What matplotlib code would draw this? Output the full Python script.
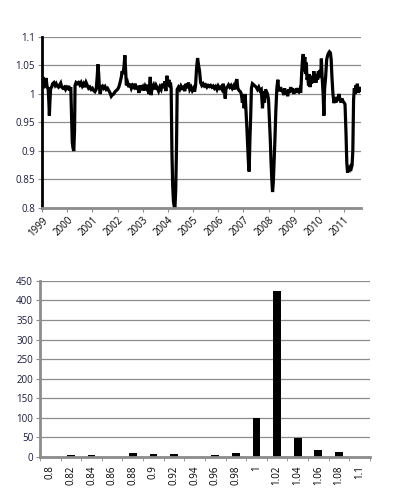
import matplotlib
matplotlib.use("Agg")
import matplotlib.pyplot as plt
import numpy as np

plt.rcParams['font.family'] = ['Open Sans', 'DejaVu Sans']

# ---- top chart: weekly ratio series (fractional year, value)
years = [
    1999.00, 1999.03, 1999.06, 1999.09, 1999.12, 1999.16, 1999.20, 1999.24, 1999.27, 1999.29,
    1999.31, 1999.34, 1999.38, 1999.42, 1999.47, 1999.52, 1999.56, 1999.60, 1999.65, 1999.70,
    1999.74, 1999.78, 1999.83, 1999.88, 1999.93, 1999.97, 2000.02, 2000.06, 2000.10, 2000.14,
    2000.17, 2000.20, 2000.23, 2000.26, 2000.29, 2000.31, 2000.35, 2000.40, 2000.45, 2000.50,
    2000.55, 2000.60, 2000.65, 2000.70, 2000.75, 2000.80, 2000.85, 2000.90, 2000.95, 2001.00,
    2001.05, 2001.10, 2001.15, 2001.19, 2001.22, 2001.25, 2001.28, 2001.31, 2001.35, 2001.40,
    2001.45, 2001.50, 2001.55, 2001.60, 2001.65, 2001.70, 2001.75, 2001.80, 2001.85, 2001.90,
    2001.95, 2002.00, 2002.05, 2002.10, 2002.15, 2002.18, 2002.22, 2002.26, 2002.29, 2002.32,
    2002.35, 2002.40, 2002.45, 2002.50, 2002.55, 2002.60, 2002.65, 2002.70, 2002.75, 2002.80,
    2002.85, 2002.90, 2002.95, 2003.00, 2003.05, 2003.10, 2003.15, 2003.20, 2003.25, 2003.30,
    2003.33, 2003.38, 2003.43, 2003.48, 2003.53, 2003.58, 2003.63, 2003.68, 2003.73, 2003.78,
    2003.83, 2003.88, 2003.92, 2003.96, 2004.00, 2004.04, 2004.07, 2004.10, 2004.13, 2004.16,
    2004.19, 2004.22, 2004.25, 2004.28, 2004.31, 2004.34, 2004.37, 2004.42, 2004.47, 2004.52,
    2004.57, 2004.62, 2004.67, 2004.72, 2004.77, 2004.82, 2004.87, 2004.92, 2004.97, 2005.02,
    2005.06, 2005.10, 2005.14, 2005.18, 2005.22, 2005.26, 2005.30, 2005.35, 2005.40, 2005.45,
    2005.50, 2005.55, 2005.60, 2005.65, 2005.70, 2005.75, 2005.80, 2005.85, 2005.90, 2005.95,
    2006.00, 2006.05, 2006.10, 2006.15, 2006.20, 2006.25, 2006.28, 2006.31, 2006.36, 2006.41,
    2006.46, 2006.51, 2006.56, 2006.61, 2006.66, 2006.70, 2006.74, 2006.78, 2006.83, 2006.88,
    2006.92, 2006.96, 2007.00, 2007.03, 2007.07, 2007.10, 2007.14, 2007.17, 2007.20, 2007.23,
    2007.26, 2007.29, 2007.32, 2007.36, 2007.41, 2007.46, 2007.51, 2007.56, 2007.61, 2007.66,
    2007.71, 2007.76, 2007.80, 2007.84, 2007.88, 2007.92, 2007.96, 2008.00, 2008.03, 2008.07,
    2008.10, 2008.13, 2008.16, 2008.19, 2008.22, 2008.25, 2008.29, 2008.33, 2008.37, 2008.40,
    2008.44, 2008.48, 2008.52, 2008.56, 2008.60, 2008.64, 2008.68, 2008.72, 2008.76, 2008.80,
    2008.84, 2008.88, 2008.92, 2008.96, 2009.00, 2009.04, 2009.08, 2009.12, 2009.16, 2009.20,
    2009.24, 2009.28, 2009.32, 2009.35, 2009.38, 2009.41, 2009.44, 2009.47, 2009.50, 2009.53,
    2009.56, 2009.59, 2009.62, 2009.65, 2009.68, 2009.71, 2009.74, 2009.77, 2009.80, 2009.83,
    2009.86, 2009.89, 2009.92, 2009.95, 2009.98, 2010.01, 2010.04, 2010.07, 2010.10, 2010.13,
    2010.17, 2010.20, 2010.23, 2010.27, 2010.31, 2010.35, 2010.39, 2010.42, 2010.46, 2010.49,
    2010.52, 2010.56, 2010.60, 2010.64, 2010.68, 2010.72, 2010.76, 2010.80, 2010.84, 2010.88,
    2010.92, 2010.96, 2011.00, 2011.04, 2011.08, 2011.11, 2011.14, 2011.17, 2011.20, 2011.23,
    2011.26, 2011.29, 2011.32, 2011.35, 2011.38, 2011.41, 2011.44, 2011.47, 2011.50, 2011.53,
    2011.56, 2011.60, 2011.64,
]
ratio = [
    1.020, 1.030, 1.010, 1.025, 1.015, 1.028, 1.012, 1.010, 0.985, 0.962,
    0.985, 1.010, 1.012, 1.018, 1.020, 1.015, 1.018, 1.014, 1.012, 1.016,
    1.019, 1.012, 1.010, 1.012, 1.008, 1.012, 1.010, 1.014, 1.006, 1.012,
    0.960, 0.915, 0.905, 0.900, 0.935, 1.015, 1.020, 1.018, 1.020, 1.016,
    1.020, 1.014, 1.018, 1.012, 1.020, 1.015, 1.010, 1.012, 1.008, 1.010,
    1.006, 1.004, 1.008, 1.030, 1.052, 1.035, 1.010, 1.000, 1.012, 1.014,
    1.010, 1.013, 1.008, 1.010, 1.006, 1.002, 0.996, 0.999, 1.000, 1.004,
    1.006, 1.008, 1.012, 1.020, 1.030, 1.040, 1.035, 1.050, 1.068, 1.040,
    1.015, 1.020, 1.012, 1.018, 1.010, 1.015, 1.012, 1.018, 1.008, 1.014,
    1.002, 1.015, 1.010, 1.013, 1.006, 1.014, 1.010, 1.016, 1.000, 1.030,
    0.998, 1.012, 1.016, 1.008, 1.015, 1.010, 1.005, 1.012, 1.008, 1.018,
    1.010, 1.022, 1.005, 1.032, 1.015, 1.025, 1.012, 1.020, 1.010, 0.900,
    0.840, 0.812, 0.803, 0.800, 0.830, 0.900, 1.008, 1.012, 1.008, 1.014,
    1.010, 1.012, 1.005, 1.018, 1.010, 1.020, 1.008, 1.012, 1.006, 1.010,
    1.004, 1.015, 1.045, 1.063, 1.050, 1.040, 1.020, 1.015, 1.018, 1.014,
    1.016, 1.012, 1.015, 1.013, 1.015, 1.012, 1.014, 1.010, 1.013, 1.008,
    1.014, 1.010, 1.012, 1.008, 1.018, 1.005, 0.992, 1.010, 1.012, 1.016,
    1.012, 1.015, 1.010, 1.014, 1.008, 1.020, 1.026, 1.010, 1.006, 1.004,
    1.000, 0.985, 0.998, 0.975, 1.000, 0.975, 0.940, 0.910, 0.880, 0.864,
    0.920, 0.960, 1.010, 1.018, 1.016, 1.014, 1.012, 1.008, 1.012, 1.006,
    1.008, 0.975, 1.005, 0.985, 1.008, 1.004, 1.000, 0.990, 0.960, 0.920,
    0.880, 0.850, 0.828, 0.845, 0.880, 0.915, 0.970, 1.010, 1.025, 1.010,
    1.005, 1.012, 1.004, 1.008, 0.998, 1.010, 1.000, 1.006, 0.996, 1.008,
    1.002, 1.012, 1.004, 1.010, 1.000, 1.008, 1.002, 1.010, 1.006, 1.004,
    1.008, 1.002, 1.040, 1.060, 1.070, 1.040, 1.065, 1.035, 1.055, 1.025,
    1.030, 1.015, 1.035, 1.012, 1.030, 1.018, 1.032, 1.020, 1.040, 1.022,
    1.030, 1.020, 1.035, 1.025, 1.040, 1.030, 1.042, 1.028, 1.062, 1.030,
    1.000, 0.962, 1.010, 1.030, 1.060, 1.068, 1.072, 1.074, 1.072, 1.060,
    1.030, 1.000, 0.984, 0.992, 0.985, 0.995, 0.988, 1.000, 0.990, 0.985,
    0.992, 0.987, 0.985, 0.982, 0.930, 0.880, 0.862, 0.868, 0.870, 0.868,
    0.872, 0.870, 0.875, 0.900, 0.990, 1.010, 1.000, 1.015, 1.005, 1.018,
    1.002, 1.012, 1.006,
]
year_ticks = list(range(1999, 2012))

# ---- bottom chart: histogram of the ratio
bins = ['0.8', '0.82', '0.84', '0.86', '0.88', '0.9', '0.92', '0.94',
        '0.96', '0.98', '1', '1.02', '1.04', '1.06', '1.08', '1.1']
counts = [1, 4, 4, 1, 10, 7, 8, 1, 6, 10, 100, 425, 49, 19, 12, 0]

label_col = '#1a1a3a'
grid_col = '#8c8c8c'
spine_col = '#8c8c8c'

fig = plt.figure(figsize=(3.97, 5.03), dpi=100)

# top chart
ax1 = fig.add_axes([0.106, 0.5865, 0.803, 0.34])
ax1.plot(years, ratio, color='black', lw=2.3, solid_joinstyle='miter')
ax1.set_xlim(1999.0, 2011.67)
ax1.set_ylim(0.8, 1.1)
ax1.set_yticks([0.8, 0.85, 0.9, 0.95, 1.0, 1.05, 1.1])
ax1.set_yticklabels(['0.8', '0.85', '0.9', '0.95', '1', '1.05', '1.1'])
ax1.set_xticks(year_ticks)
ax1.set_xticklabels([str(y) for y in year_ticks], rotation=45,
                    ha='right', rotation_mode='anchor')
ax1.yaxis.grid(True, color=grid_col, lw=0.9)
ax1.set_axisbelow(True)
for s in ['top', 'right']:
    ax1.spines[s].set_visible(False)
ax1.spines['left'].set_color('black')
ax1.spines['left'].set_linewidth(2.0)
ax1.spines['bottom'].set_color(spine_col)
ax1.spines['bottom'].set_linewidth(2.0)
ax1.tick_params(axis='x', length=3, color=spine_col, labelsize=7, pad=2)
ax1.tick_params(axis='y', length=3, color=spine_col, labelsize=7,
                labelcolor=label_col, pad=2)

# bottom chart
ax2 = fig.add_axes([0.1008, 0.0915, 0.831, 0.35])
x = np.arange(len(bins))
ax2.bar(x, counts, width=0.38, color='black')
ax2.set_xlim(-0.5, len(bins) - 0.5)
ax2.set_ylim(0, 450)
ax2.set_yticks(range(0, 451, 50))
ax2.set_xticks(x)
ax2.set_xticklabels(bins, rotation=90)
ax2.set_xticks(np.arange(-0.5, len(bins), 1), minor=True)
ax2.yaxis.grid(True, color=grid_col, lw=0.9)
ax2.set_axisbelow(True)
for s in ['top', 'right']:
    ax2.spines[s].set_visible(False)
for s in ['left', 'bottom']:
    ax2.spines[s].set_color(spine_col)
    ax2.spines[s].set_linewidth(2.0)
ax2.tick_params(axis='x', which='major', length=0, labelsize=7, pad=6)
ax2.tick_params(axis='x', which='minor', length=3, color=spine_col)
ax2.tick_params(axis='y', length=3, color=spine_col, labelsize=7,
                labelcolor=label_col, pad=2)

fig.savefig('out.png', dpi=100)
